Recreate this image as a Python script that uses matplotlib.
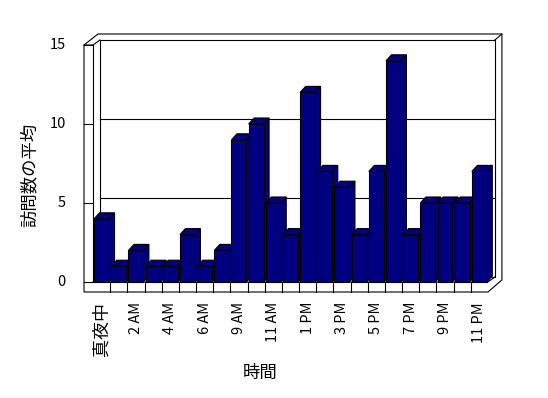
import matplotlib
matplotlib.use("Agg")
import matplotlib.pyplot as plt
from matplotlib.patches import Polygon
import numpy as np

plt.rcParams['font.family'] = ['Noto Sans CJK JP', 'DejaVu Sans']

# data: average visits per hour (7 AM missing in the source)
hours = ['真夜中', '1 AM', '2 AM', '3 AM', '4 AM', '5 AM', '6 AM', '8 AM', '9 AM',
         '10 AM', '11 AM', '12 PM', '1 PM', '2 PM', '3 PM', '4 PM', '5 PM', '6 PM',
         '7 PM', '8 PM', '9 PM', '10 PM', '11 PM']
visits = [4, 1, 2, 1, 1, 3, 1, 2, 9, 10, 5, 3, 12, 7, 6, 3, 7, 14, 3, 5, 5, 5, 7]
yticks = [0, 5, 10, 15]
xlabel = '時間'
ylabel = '訪問数の平均'

navy = '#000080'
lw = 0.8

n = len(visits)
ymax = 15
ux, uy = 17.17, 15.8          # pixels per data unit
wdx, wdy = 7 / ux, 5 / uy     # back wall depth
bdx, bdy = 5.5 / ux, 6 / uy   # bar depth
wall_t = 9 / ux               # left wall thickness
floor_t = 10 / uy             # floor thickness
bw = 0.87

fig = plt.figure(figsize=(5.48, 3.98), dpi=100)
ax = fig.add_axes([0, 0, 1, 1])
ax.set_xlim(-0.5 - 93 / ux, -0.5 + 455 / ux)
ax.set_ylim((282 - 398) / uy, 282 / uy)
ax.axis('off')

x0, x1 = -0.5, n - 0.5
ol, otop, oright = x0 - wall_t, ymax + 11 / uy, x1 + 14 / ux

# outer silhouette of the walls and floor
ax.add_patch(Polygon([(ol, -floor_t), (ol, ymax), (x0 + 5 / ux, otop), (oright, otop),
                      (oright, 2 / uy), (x1, -floor_t)], closed=True,
                     facecolor='white', edgecolor='black', lw=lw, zorder=1))
# back wall inner face
ax.add_patch(Polygon([(x0 + wdx, wdy), (x0 + wdx, ymax + wdy), (x1 + wdx, ymax + wdy),
                      (x1 + wdx, wdy)], closed=True, facecolor='white',
                     edgecolor='black', lw=lw, zorder=2))
for g in yticks[1:-1]:
    ax.plot([x0 + wdx, x1 + wdx], [g + wdy, g + wdy], color='black', lw=lw, zorder=2)
# wall edges
ax.plot([x0, x0], [0, ymax], color='black', lw=lw, zorder=2)
ax.plot([ol, x0, x0 + wdx], [ymax, ymax, ymax + wdy], color='black', lw=lw, zorder=2)
ax.plot([x1 + wdx, oright], [ymax + wdy, otop], color='black', lw=lw, zorder=2)
ax.plot([x0, x1, x1 + wdx], [0, 0, wdy], color='black', lw=lw, zorder=2)
for k in range(1, n):
    ax.plot([x0 + k, x0 + k], [-floor_t, 0], color='black', lw=lw, zorder=2)
for t in yticks:
    ax.plot([ol, x0], [t, t], color='black', lw=lw, zorder=2)
    ax.text(ol - 18 / ux, t, str(t), ha='right', va='center', fontsize=10.5)

# bars, left to right so each front hides the previous side
xs = np.arange(n)
for i, v in enumerate(visits):
    z = 3 + i
    l, r = xs[i] - bw / 2, xs[i] + bw / 2
    ax.add_patch(Polygon([(r, 0), (r, v), (r + bdx, v + bdy), (r + bdx, bdy)], closed=True,
                         facecolor=navy, edgecolor='black', lw=lw, zorder=z))
    ax.add_patch(Polygon([(l, v), (r, v), (r + bdx, v + bdy), (l + bdx, v + bdy)], closed=True,
                         facecolor=navy, edgecolor='black', lw=lw, zorder=z))
    ax.bar(xs[i], v, width=bw, color=navy, edgecolor='black', lw=lw, zorder=z)

# category labels, every other one
for i in range(0, n, 2):
    size = 10.5 if hours[i].isascii() else 13
    ax.text(xs[i], -floor_t - 10 / uy, hours[i], rotation=90, ha='center', va='top',
            fontsize=size)

fig.text(260 / 548, 1 - 373 / 398, xlabel, ha='center', va='center', fontsize=12.5)
fig.text(30 / 548, 1 - 175 / 398, ylabel, ha='center', va='center', rotation=90, fontsize=12.5)

fig.savefig('out.png', dpi=100)
